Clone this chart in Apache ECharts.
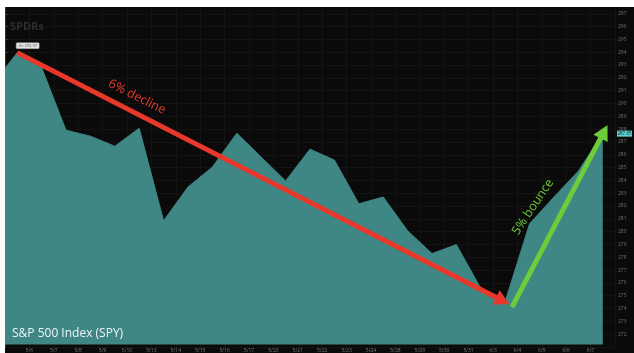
<!DOCTYPE html>
<html><head><meta charset="utf-8">
<script src="https://cdn.jsdelivr.net/npm/echarts@6/dist/echarts.min.js"></script>
<style>html,body{margin:0;padding:0;background:#fff}#c{width:634px;height:353px}</style>
</head><body><div id="c"></div>
<script>
// x-axis date labels (placed between sessions, as in the reference)
const dateLabels = ['5/6','5/7','5/8','5/9','5/10','5/13','5/14','5/15','5/16','5/17','5/20','5/21',
                    '5/22','5/23','5/24','5/28','5/29','5/30','5/31','6/3','6/4','6/5','6/6','6/7'];
// SPY closes; first value is the prior session (partly off-chart)
const closes = [291.49, 293.97, 292.81, 287.92, 287.45, 286.67, 288.07, 280.85, 283.49, 285.04,
                287.68, 285.82, 283.96, 286.44, 285.59, 282.17, 282.71, 280.07, 278.29, 278.99,
                275.57, 274.56, 280.62, 282.71, 284.73, 287.65];
const yMin = 271, yMax = 298, yStep = 1;
const areaBase = 271.2;
const peakIdx = 1, troughIdx = 21, lastIdx = closes.length - 1;
const lastPriceText = '287.65';
const hiText = 'Hi: 293.97';

const xOf = i => i - 0.5;
const seriesData = closes.map((v, i) => [xOf(i), v]);

const chart = echarts.init(document.getElementById('c'));
const option = {
  backgroundColor: '#0a0a0a',
  animation: false,
  grid: { left: 5, right: 19, top: 1, bottom: 4 },
  xAxis: {
    type: 'value', min: 0, max: dateLabels.length + 1, interval: 1,
    axisLine: { show: false }, axisTick: { show: false },
    splitLine: { show: true, lineStyle: { color: '#131313', width: 1 } },
    axisLabel: {
      color: '#7a7a7a', fontSize: 5, margin: 1, fontFamily: 'Open Sans',
      formatter: v => dateLabels[v - 1] || ''
    }
  },
  yAxis: {
    type: 'value', position: 'right', min: yMin, max: yMax, interval: yStep,
    axisLine: { show: true, lineStyle: { color: '#333' } },
    axisTick: { show: true, length: 3, lineStyle: { color: '#333' } },
    splitLine: { show: true, lineStyle: { color: '#131313', width: 1 } },
    axisLabel: { color: '#707070', fontSize: 5, margin: 3, fontFamily: 'Open Sans',
      showMinLabel: false, showMaxLabel: false }
  },
  series: [{
    type: 'line', data: seriesData, showSymbol: false, clip: true,
    lineStyle: { color: '#3e8784', width: 1 },
    areaStyle: { color: '#3e8784', opacity: 1, origin: areaBase },
    markLine: {
      silent: true, animation: false,
      label: { show: false },
      symbol: ['none', 'triangle'], symbolSize: [16, 15],
      data: [
        [ { coord: [xOf(peakIdx), closes[peakIdx]], lineStyle: { color: '#e8382c', width: 5, type: 'solid' } },
          { coord: [xOf(troughIdx) - 0.1, closes[troughIdx] + 0.05] } ],
        [ { coord: [xOf(troughIdx) + 0.28, closes[troughIdx] - 0.45], lineStyle: { color: '#6dcc3a', width: 5, type: 'solid' } },
          { coord: [xOf(lastIdx) + 0.05, closes[lastIdx] + 0.15] } ]
      ]
    }
  }],
  graphic: []
};
chart.setOption(option);

const pk = chart.convertToPixel({ gridIndex: 0 }, [xOf(peakIdx), closes[peakIdx]]);
const lp = chart.convertToPixel({ gridIndex: 0 }, [xOf(lastIdx), closes[lastIdx]]);

chart.setOption({
  graphic: [
    { type: 'rect', shape: { x: 0, y: 0, width: 634, height: 7 }, style: { fill: '#ffffff' }, z: 100 },
    { type: 'rect', shape: { x: 0, y: 0, width: 5, height: 353 }, style: { fill: '#ffffff' }, z: 100 },
    { type: 'text', left: 10, top: 21, z: 50,
      style: { text: 'SPDRs', fill: '#2e2e2e', font: 'bold 11px "Open Sans"' } },
    { type: 'text', left: 12, top: 328, z: 50,
      style: { text: 'S&P 500 Index (SPY)', fill: '#eef4f4', font: '12px "Open Sans"' } },
    { type: 'text', x: 137, y: 97, rotation: -0.47, z: 50,
      style: { text: '6% decline', fill: '#e8382c', font: '12.5px "Open Sans"', align: 'center', verticalAlign: 'middle' } },
    { type: 'text', x: 533, y: 207, rotation: 0.98, z: 50,
      style: { text: '5% bounce', fill: '#6dcc3a', font: '12.5px "Open Sans"', align: 'center', verticalAlign: 'middle' } },
    { type: 'rect', z: 60, shape: { x: pk[0] - 1, y: pk[1] - 10, width: 23, height: 6, r: 1 },
      style: { fill: '#e4e4e4', stroke: '#999', lineWidth: 0.5 } },
    { type: 'text', z: 61, x: pk[0] + 10.5, y: pk[1] - 7,
      style: { text: hiText, fill: '#555', font: '4px "Open Sans"', align: 'center', verticalAlign: 'middle' } },
    { type: 'rect', z: 60, shape: { x: 617, y: lp[1] - 3, width: 15, height: 6 }, style: { fill: '#5fd4d9' } },
    { type: 'text', z: 61, x: 624.5, y: lp[1],
      style: { text: lastPriceText, fill: '#0a0a0a', font: '4.5px "Open Sans"', align: 'center', verticalAlign: 'middle' } }
  ]
});
</script></body></html>
